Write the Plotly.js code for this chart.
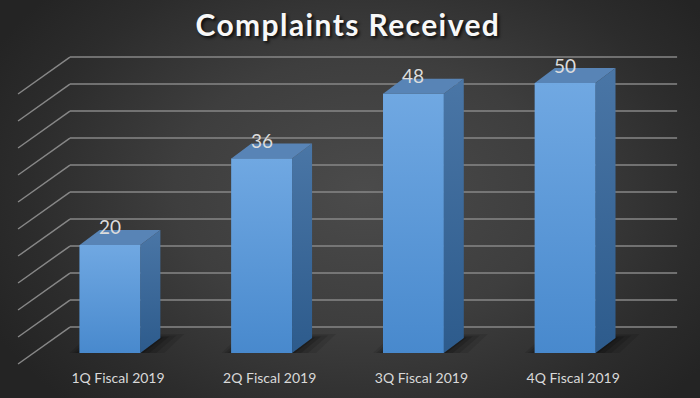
<!DOCTYPE html>
<html>
<head>
<meta charset="utf-8">
<script src="https://cdn.plot.ly/plotly-3.0.1.min.js"></script>
<style>
  html, body { margin: 0; padding: 0; }
  #chart {
    width: 700px; height: 398px;
    background: radial-gradient(ellipse 60% 75% at 52% 48%, #4b4b4b 0%, #3e3e3e 45%, #2c2c2c 80%, #242424 100%);
  }
  #chart .gtitle { letter-spacing: 1.4px; }
</style>
</head>
<body>
<div id="chart"></div>
<script>
// ---- data ----
const categories = ['1Q Fiscal 2019', '2Q Fiscal 2019', '3Q Fiscal 2019', '4Q Fiscal 2019'];
const complaints = [20, 36, 48, 50];
const gridValues = [0, 5, 10, 15, 20, 25, 30, 35, 40, 45, 50];
const chartTitle = 'Complaints Received';

// ---- 3D look geometry (axis units) ----
const BAR_W = 0.40;      // front face width
const DEPTH_X = 0.132;   // bar depth offset in x units
const DEPTH_Y = 2.78;    // bar depth offset in value units
const WALL_BACK_DY = 4.81, WALL_X0 = -0.264, WALL_X1 = 3.738;
const WALL_FRONT_X = -0.606, WALL_FRONT_DY = -2.04;
const PX_X = 1 / 151.7, PX_Y = 1 / 5.4;   // one pixel in axis units

const xs = categories.map((c, i) => i);

const shapes = [];
// back wall + side wall gridlines
gridValues.forEach(g => {
  const gline = {color: '#878787', width: 1.5};
  shapes.push({type: 'line', xref: 'x', yref: 'y', layer: 'below',
    x0: WALL_X0, x1: WALL_X1, y0: g + WALL_BACK_DY, y1: g + WALL_BACK_DY, line: gline});
  shapes.push({type: 'line', xref: 'x', yref: 'y', layer: 'below',
    x0: WALL_FRONT_X, x1: WALL_X0, y0: g + WALL_FRONT_DY, y1: g + WALL_BACK_DY, line: gline});
});
// soft floor shadows (footprint expanded, layered)
xs.forEach(i => {
  const l = i - BAR_W / 2, r = i + BAR_W / 2;
  [[10, 24, 4, 0.10], [7, 16, 2.5, 0.13], [4, 9, 1.5, 0.16], [1, 3, 0.5, 0.2]].forEach(([el, er, ey, op]) => {
    const p = [[l - el * PX_X, 0], [r + er * PX_X, 0],
               [r + DEPTH_X + er * PX_X, DEPTH_Y + ey * PX_Y], [l + DEPTH_X - el * PX_X, DEPTH_Y + ey * PX_Y]];
    shapes.push({type: 'path', xref: 'x', yref: 'y', layer: 'below',
      path: 'M' + p.map(q => q[0] + ',' + q[1]).join('L') + 'Z',
      fillcolor: 'rgba(0,0,0,' + op + ')', line: {width: 0}});
  });
});

const traces = [];
// front faces (bar trace)
traces.push({type: 'bar', x: xs, y: complaints, width: BAR_W,
  marker: {color: '#5b99d8', line: {width: 0}}, hoverinfo: 'skip', showlegend: false});

xs.forEach((i, k) => {
  const v = complaints[k];
  const l = i - BAR_W / 2, r = i + BAR_W / 2;
  // gradient front overlay
  traces.push({type: 'scatter', mode: 'lines', fill: 'toself',
    x: [l, r, r, l, l], y: [0, 0, v, v, 0], line: {width: 0},
    fillgradient: {type: 'vertical', start: 0, stop: v,
      colorscale: [[0, '#4889cd'], [1, '#70a8e2']]},
    hoverinfo: 'skip', showlegend: false});
  // side face
  traces.push({type: 'scatter', mode: 'lines', fill: 'toself',
    x: [r, r + DEPTH_X, r + DEPTH_X, r, r], y: [0, DEPTH_Y, v + DEPTH_Y, v, 0], line: {width: 0},
    fillgradient: {type: 'vertical', start: 0, stop: v + DEPTH_Y,
      colorscale: [[0, '#2d5b8c'], [1, '#4a76a6']]},
    hoverinfo: 'skip', showlegend: false});
  // top face
  traces.push({type: 'scatter', mode: 'lines', fill: 'toself',
    x: [l, r, r + DEPTH_X, l + DEPTH_X, l], y: [v, v, v + DEPTH_Y, v + DEPTH_Y, v],
    line: {width: 0}, fillcolor: '#5884b6', hoverinfo: 'skip', showlegend: false});
});

const annotations = xs.map((i, k) => ({
  x: i, y: complaints[k], xref: 'x', yref: 'y', yshift: 18, showarrow: false,
  text: String(complaints[k]),
  font: {family: 'Lato, "Open Sans", sans-serif', size: 19, color: '#dcdcdc'}
}));

const layout = {
  width: 700, height: 398,
  margin: {l: 0, r: 0, t: 0, b: 30},
  paper_bgcolor: 'rgba(0,0,0,0)', plot_bgcolor: 'rgba(0,0,0,0)',
  title: {text: chartTitle, x: 0.497, xanchor: 'center', y: 0.935, yanchor: 'middle', yref: 'container',
    font: {family: 'Lato, "Open Sans", sans-serif', size: 30, weight: 'bold', color: '#f8f8f8',
      shadow: '2px 2px 3px rgba(0,0,0,0.75)'}},
  xaxis: {range: [-0.725, 3.889], tickvals: xs, ticktext: categories, showgrid: false,
    zeroline: false, showline: false, ticks: '', ticklabelshift: 8,
    tickfont: {family: 'Lato, "Open Sans", sans-serif', size: 14, color: '#d9d9d9'}, fixedrange: true},
  yaxis: {range: [-2.78, 65.37], showgrid: false, zeroline: false, showline: false,
    showticklabels: false, ticks: '', fixedrange: true},
  shapes: shapes,
  annotations: annotations,
  showlegend: false
};

Plotly.newPlot('chart', traces, layout, {displayModeBar: false, staticPlot: true});
</script>
</body>
</html>
